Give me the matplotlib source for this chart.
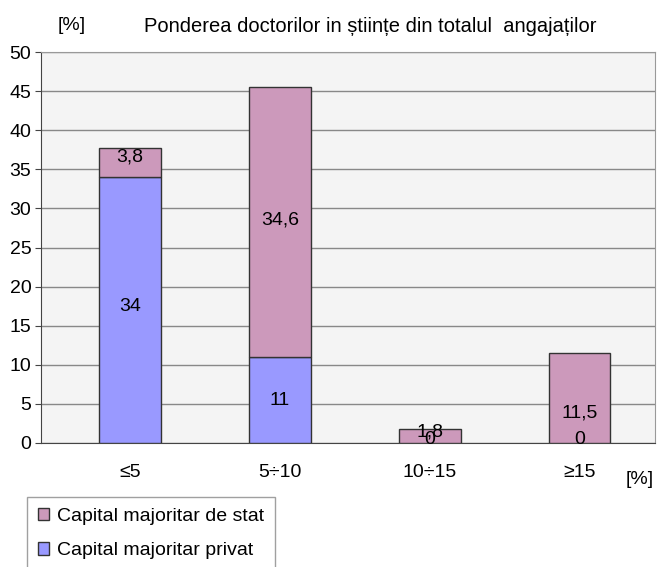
"""Ponderea doctorilor in stiinte - stacked bars."""

import matplotlib

matplotlib.use("Agg")
import matplotlib.pyplot as plt
import numpy as np

plt.rcParams["font.family"] = ["Liberation Sans", "DejaVu Sans"]

categories = ["≤5", "5÷10", "10÷15", "≥15"]
privat = [34, 11, 0, 0]
stat = [3.8, 34.6, 1.8, 11.5]
privat_labels = ["34", "11", "0", "0"]
stat_labels = ["3,8", "34,6", "1,8", "11,5"]

fig = plt.figure(figsize=(6.58, 5.67), dpi=100)
ax = fig.add_axes([0.0623, 0.2187, 0.9327, 0.6893])
ax.set_facecolor("#f4f4f4")

x = np.arange(len(categories))
width = 0.41
b1 = ax.bar(x, privat, width, color="#9999ff", edgecolor="#333333", linewidth=1.0,
            label="Capital majoritar privat", zorder=3)
b2 = ax.bar(x, stat, width, bottom=privat, color="#cc99bb", edgecolor="#333333",
            linewidth=1.0, label="Capital majoritar de stat", zorder=3)

# label heights, nudged like in the original
privat_y = [17.4, 5.5, 0.4, 0.4]
stat_y = [36.6, 28.5, 1.4, 3.8]
for i in range(len(categories)):
    ax.text(x[i], privat_y[i], privat_labels[i], ha="center", va="center", fontsize=14, zorder=4)
    ax.text(x[i], stat_y[i], stat_labels[i], ha="center", va="center", fontsize=14, zorder=4)

ax.set_ylim(0, 50)
ax.set_xlim(-0.593, 3.5)
ax.set_yticks(np.arange(0, 51, 5))
ax.set_xticks(x)
ax.set_xticklabels(categories)
ax.tick_params(axis="both", labelsize=14, length=4, color="#444444")
ax.tick_params(axis="x", length=0, pad=15)
ax.tick_params(axis="y", pad=3)
ax.yaxis.grid(True, color="#888888", linewidth=1.0, zorder=1)
ax.set_axisbelow(True)
for s in ["top", "right"]:
    ax.spines[s].set_color("#999999")
ax.spines["left"].set_color("#444444")
ax.spines["bottom"].set_color("#444444")

fig.text(72 / 658, 1 - 26 / 567, "[%]", fontsize=14, ha="center", va="center")
fig.text(370 / 658, 1 - 26 / 567, "Ponderea doctorilor in științe din totalul  angajaților",
         fontsize=14.5, ha="center", va="center")
fig.text(640 / 658, 1 - 480 / 567, "[%]", fontsize=14, ha="center", va="center")

handles = [b2, b1]
leg = fig.legend(handles, [h.get_label() for h in handles], loc="upper left",
                 bbox_to_anchor=(27 / 658, 1 - 497 / 567), fontsize=14,
                 frameon=True, fancybox=False, edgecolor="#888888",
                 handlelength=0.6, handleheight=0.6, handletextpad=0.4,
                 borderpad=0.55, borderaxespad=0, labelspacing=0.9)

fig.savefig("out.png", dpi=100)
